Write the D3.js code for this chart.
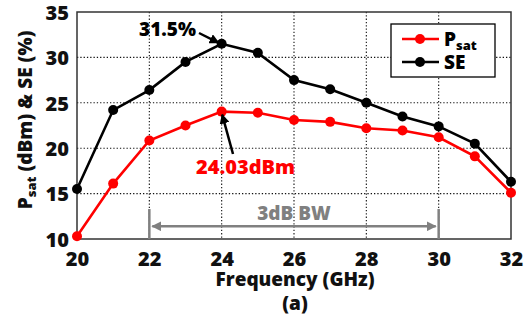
<!DOCTYPE html>
<html><head><meta charset="utf-8">
<script src="https://cdn.jsdelivr.net/npm/d3@7"></script>
<style>body{margin:0;background:#fff}svg{display:block}text{font-family:"Open Sans",sans-serif;font-weight:800}</style>
</head><body><svg id="c" width="531" height="326"></svg>
<script>
const freq = [20,21,22,23,24,25,26,27,28,29,30,31,32];
const psat = [10.3,16.1,20.85,22.5,24.03,23.9,23.1,22.9,22.2,21.95,21.2,19.1,15.1];
const se   = [15.5,24.2,26.4,29.5,31.5,30.5,27.5,26.5,25.0,23.5,22.4,20.5,16.3];
const xTicks = [20,22,24,26,28,30,32];
const yTicks = [10,15,20,25,30,35];
const bw = [22,30];

const svg = d3.select("#c");
const L=77,R=511,T=12,B=239;
const x = d3.scaleLinear().domain([20,32]).range([L,R]);
const y = d3.scaleLinear().domain([10,35]).range([B,T]);

const defs = svg.append("defs");
function mk(id,color){
  defs.append("marker").attr("id",id).attr("viewBox","0 0 10 10").attr("refX",9).attr("refY",5)
   .attr("markerWidth",4).attr("markerHeight",4).attr("orient","auto-start-reverse")
   .append("path").attr("d","M0,0L10,5L0,10z").attr("fill",color);
}
mk("ab","#000"); mk("ag","#808080");

// grid
svg.append("g").selectAll("line").data(xTicks.slice(1,-1)).join("line")
  .attr("x1",d=>x(d)).attr("x2",d=>x(d)).attr("y1",T).attr("y2",B)
  .attr("stroke","#111").attr("stroke-width",1.1).attr("stroke-dasharray","1.3,2");
svg.append("g").selectAll("line").data(yTicks.slice(1,-1)).join("line")
  .attr("y1",d=>y(d)).attr("y2",d=>y(d)).attr("x1",L).attr("x2",R)
  .attr("stroke","#111").attr("stroke-width",1.1).attr("stroke-dasharray","1.3,2");

// axes
const xa = svg.append("g").attr("transform",`translate(0,${B})`)
  .call(d3.axisBottom(x).tickValues(xTicks).tickSize(0).tickPadding(13).tickFormat(d3.format("d")));
const ya = svg.append("g").attr("transform",`translate(${L},0)`)
  .call(d3.axisLeft(y).tickValues(yTicks).tickSize(0).tickPadding(8));
[xa,ya].forEach(g=>{g.select(".domain").remove();g.selectAll("text").attr("font-size",20).attr("fill","#111")
  .style("font-family","'Open Sans',sans-serif").style("font-weight","800");});
xa.selectAll("text").attr("dy","0.7em");
ya.selectAll("text").attr("dy","0.36em");

svg.append("rect").attr("x",L).attr("y",T).attr("width",R-L).attr("height",B-T)
  .attr("fill","none").attr("stroke","#333").attr("stroke-width",1.5);

// 3dB BW
const g = "#808080";
bw.forEach(f=>svg.append("line").attr("x1",x(f)).attr("x2",x(f)).attr("y1",y(13.3)).attr("y2",B)
  .attr("stroke",g).attr("stroke-width",2.5));
svg.append("line").attr("x1",x(bw[0])+3).attr("x2",x(bw[1])-3).attr("y1",y(11.4)).attr("y2",y(11.4))
  .attr("stroke",g).attr("stroke-width",2.5).attr("marker-start","url(#ag)").attr("marker-end","url(#ag)");
svg.append("text").attr("x",(x(bw[0])+x(bw[1]))/2).attr("y",y(12.1)).attr("text-anchor","middle")
  .attr("font-size",19).attr("fill",g).text("3dB BW");

// series
const line = d3.line().x((d,i)=>x(freq[i])).y(d=>y(d));
function series(vals,color){
  svg.append("path").attr("d",line(vals)).attr("fill","none").attr("stroke",color).attr("stroke-width",2.6);
  svg.append("g").selectAll("circle").data(vals).join("circle")
    .attr("cx",(d,i)=>x(freq[i])).attr("cy",d=>y(d)).attr("r",5).attr("fill",color);
}
series(psat,"#ff0000");
series(se,"#000");

// annotations
svg.append("text").attr("x",139).attr("y",36).attr("font-size",19).attr("fill","#000").text("31.5%");
svg.append("line").attr("x1",199).attr("y1",33).attr("x2",x(24)-3).attr("y2",y(31.5)-1)
  .attr("stroke","#000").attr("stroke-width",2.5).attr("marker-end","url(#ab)");
svg.append("text").attr("x",196).attr("y",174).attr("font-size",20).attr("fill","#ff0000").text("24.03dBm");
svg.append("line").attr("x1",233).attr("y1",154).attr("x2",x(24)+0.5).attr("y2",y(24.03)+3)
  .attr("stroke","#000").attr("stroke-width",2.5).attr("marker-end","url(#ab)");

// legend
const lg = svg.append("g");
lg.append("rect").attr("x",391).attr("y",24).attr("width",104).attr("height",53)
  .attr("fill","#fff").attr("stroke","#000").attr("stroke-width",1.3);
[["#ff0000",39,"P","sat"],["#000",62,"SE",null]].forEach(([c,yy,t,sub])=>{
  lg.append("line").attr("x1",402).attr("x2",439).attr("y1",yy).attr("y2",yy).attr("stroke",c).attr("stroke-width",2.6);
  lg.append("circle").attr("cx",420).attr("cy",yy).attr("r",5).attr("fill",c);
  const tx = lg.append("text").attr("x",444).attr("y",yy+7).attr("font-size",19).attr("fill","#000").text(t);
  if(sub) tx.append("tspan").attr("font-size",13).attr("dy",4).text(sub);
});

// axis titles
svg.append("text").attr("x",295).attr("y",286).attr("text-anchor","middle").attr("font-size",19).attr("fill","#111").text("Frequency (GHz)");
svg.append("text").attr("x",295).attr("y",310).attr("text-anchor","middle").attr("font-size",19).attr("fill","#111").text("(a)");
const yl = svg.append("text").attr("transform","translate(32,120) rotate(-90)").attr("text-anchor","middle")
  .attr("font-size",19).attr("fill","#111");
yl.append("tspan").text("P");
yl.append("tspan").attr("font-size",13).attr("dy",4).text("sat");
yl.append("tspan").attr("dy",-4).text(" (dBm) & SE (%)");
</script></body></html>
